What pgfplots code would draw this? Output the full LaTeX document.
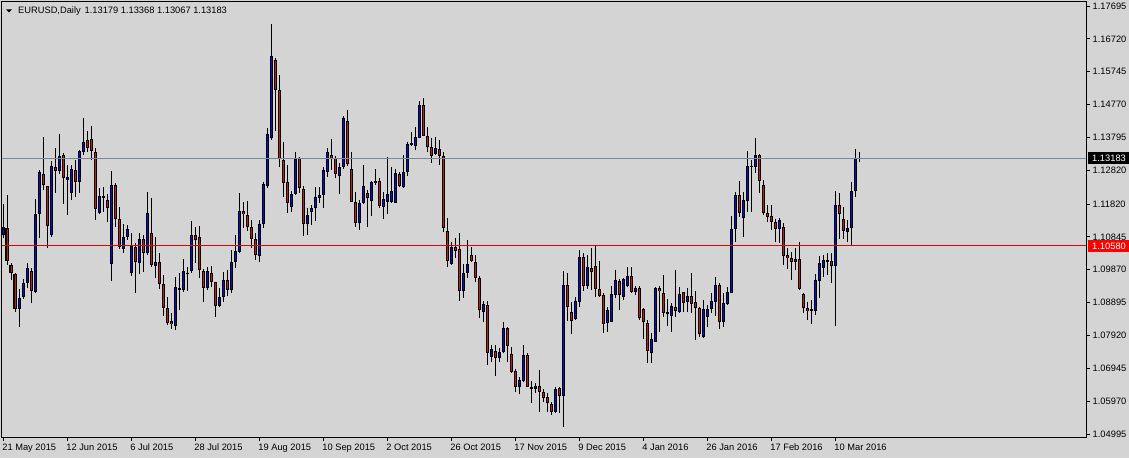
\documentclass[border=0pt]{standalone}
\usepackage{fontspec}
\setmainfont{Liberation Sans}
\usepackage{pgfplots}
\pgfplotsset{compat=1.18}
\usepackage{pgfplotstable}
\definecolor{bg}{RGB}{212,212,212}
\definecolor{bullc}{RGB}{10,10,210}
\definecolor{bearc}{RGB}{210,20,20}
\definecolor{bidline}{RGB}{119,136,153}
\definecolor{hline}{RGB}{230,0,0}
\newcommand{\lbl}{\fontsize{9.3}{10}\selectfont}

% i open high low close  (bullish candles)
\pgfplotstableread{
i o h l c
0 1.10901 1.11820 1.10802 1.11148
4 1.08715 1.09288 1.08181 1.09021
5 1.09051 1.09585 1.08992 1.09466
6 1.09466 1.10060 1.09318 1.09912
8 1.09219 1.11969 1.09170 1.11514
9 1.11514 1.12829 1.10802 1.12770
12 1.10901 1.13096 1.10851 1.12948
14 1.12809 1.13897 1.12710 1.13244
16 1.12532 1.12977 1.11494 1.12612
17 1.12157 1.12977 1.11939 1.12849
19 1.12463 1.13422 1.12137 1.13383
20 1.13373 1.14362 1.13274 1.13650
24 1.11563 1.12285 1.11524 1.12058
25 1.12008 1.12315 1.11593 1.12058
27 1.10030 1.12799 1.09536 1.12374
30 1.10475 1.11227 1.10357 1.10841
31 1.10831 1.11197 1.10752 1.11079
32 1.09783 1.10950 1.09694 1.10574
34 1.10080 1.10970 1.09743 1.10772
36 1.10357 1.12166 1.10307 1.11543
38 1.09991 1.10851 1.09615 1.10099
43 1.08191 1.09664 1.08082 1.09348
44 1.09269 1.09763 1.08675 1.09318
45 1.09259 1.10188 1.09219 1.09832
46 1.09753 1.09961 1.09249 1.09773
47 1.09823 1.11326 1.09763 1.10901
51 1.09318 1.09961 1.09269 1.09823
54 1.08804 1.09318 1.08774 1.09051
55 1.09061 1.09803 1.08913 1.09565
57 1.09269 1.10455 1.09180 1.10099
58 1.10099 1.10901 1.09921 1.10426
59 1.10406 1.12137 1.10357 1.11613
64 1.10277 1.11346 1.10099 1.11217
65 1.11217 1.12483 1.11098 1.12404
66 1.12364 1.14065 1.12305 1.13897
67 1.13769 1.17161 1.13719 1.16212
72 1.11741 1.12216 1.11593 1.12107
73 1.12107 1.13353 1.12087 1.13156
76 1.11217 1.11692 1.10901 1.11494
77 1.11573 1.11791 1.11197 1.11692
78 1.11692 1.12315 1.11326 1.12018
79 1.12008 1.12315 1.11840 1.12087
80 1.12087 1.12928 1.11712 1.12829
81 1.12780 1.13492 1.12612 1.13353
84 1.12661 1.13027 1.12117 1.12908
85 1.12908 1.14441 1.12859 1.14362
89 1.11247 1.11929 1.11049 1.11840
90 1.11840 1.12977 1.11810 1.12345
92 1.11919 1.12503 1.11464 1.12473
93 1.12434 1.12849 1.12384 1.12503
95 1.11741 1.12186 1.11375 1.11959
96 1.11890 1.13205 1.11514 1.12107
97 1.11890 1.12928 1.11840 1.12206
98 1.11860 1.12859 1.11840 1.12730
100 1.12335 1.13274 1.12305 1.12760
101 1.12760 1.13670 1.12661 1.13591
102 1.13591 1.13966 1.13551 1.13640
103 1.13551 1.14115 1.13423 1.13798
104 1.13788 1.14876 1.13769 1.14758
108 1.13294 1.13818 1.13274 1.13472
112 1.10030 1.10702 1.10010 1.10554
115 1.09249 1.10040 1.09021 1.09763
116 1.09763 1.10752 1.09614 1.10030
120 1.08625 1.08952 1.08329 1.08853
122 1.07290 1.07636 1.07142 1.07508
124 1.07241 1.07538 1.07142 1.07419
125 1.07419 1.08329 1.07389 1.08131
129 1.06400 1.06697 1.06173 1.06598
130 1.06568 1.07646 1.06549 1.07340
132 1.06341 1.06568 1.05906 1.06400
133 1.06341 1.06519 1.06202 1.06420
138 1.05639 1.06380 1.05609 1.06331
140 1.06133 1.09842 1.05213 1.09417
143 1.08398 1.09051 1.08378 1.08942
144 1.08922 1.10455 1.08774 1.10238
146 1.09397 1.10307 1.09298 1.09941
151 1.08279 1.08774 1.08032 1.08675
152 1.08329 1.09387 1.08309 1.09150
153 1.09120 1.09862 1.09021 1.09565
155 1.09051 1.09615 1.08972 1.09595
156 1.09397 1.09941 1.09367 1.09684
158 1.09199 1.09387 1.09120 1.09338
162 1.07389 1.07983 1.07112 1.07814
163 1.07735 1.09367 1.07716 1.09318
167 1.08508 1.08893 1.08033 1.08794
169 1.08626 1.09368 1.08577 1.09150
171 1.08913 1.09319 1.08626 1.09091
175 1.07884 1.08972 1.07835 1.08705
176 1.08478 1.08824 1.08181 1.08705
177 1.08695 1.09190 1.08577 1.08943
178 1.08923 1.09665 1.08498 1.09417
180 1.08330 1.09170 1.08181 1.08873
181 1.08854 1.09368 1.08824 1.09200
182 1.09190 1.11465 1.09170 1.11069
183 1.11069 1.12187 1.10703 1.12088
185 1.11415 1.12187 1.10851 1.11939
186 1.11920 1.13393 1.11593 1.12948
187 1.12928 1.13126 1.11593 1.12948
188 1.12928 1.13789 1.12731 1.13275
194 1.11069 1.11396 1.10673 1.11346
202 1.08656 1.08972 1.08250 1.08705
203 1.08656 1.09744 1.08527 1.09566
204 1.09546 1.10278 1.09022 1.10060
205 1.09912 1.10308 1.09665 1.10159
206 1.10110 1.10377 1.09714 1.10159
208 1.09991 1.12206 1.08211 1.11791
211 1.11000 1.11346 1.10703 1.11119
212 1.11099 1.12464 1.10604 1.12216
213 1.12216 1.13453 1.12038 1.13176
214 1.13179 1.13368 1.13067 1.13183
}\bulltab

% bearish candles
\pgfplotstableread{
i o h l c
1 1.11108 1.12087 1.10010 1.10139
2 1.10010 1.10080 1.09565 1.09763
3 1.09743 1.09783 1.08626 1.08695
7 1.09832 1.09912 1.08873 1.09249
10 1.12701 1.13808 1.12236 1.12374
11 1.12344 1.12354 1.10505 1.11177
13 1.12908 1.13492 1.12137 1.12809
15 1.13274 1.13343 1.11820 1.12582
18 1.12819 1.13126 1.12038 1.12483
21 1.13719 1.13986 1.13373 1.13492
22 1.13749 1.14135 1.13126 1.13403
23 1.13353 1.13492 1.11346 1.11682
26 1.11939 1.12117 1.11296 1.11712
28 1.12374 1.12453 1.11148 1.11365
29 1.11375 1.11721 1.10475 1.10545
33 1.10554 1.10653 1.09170 1.10109
35 1.10772 1.10901 1.09813 1.10357
37 1.10950 1.11998 1.09961 1.10001
39 1.10089 1.10357 1.09288 1.09437
40 1.09437 1.09714 1.08497 1.08725
41 1.08725 1.09051 1.08230 1.08299
42 1.08339 1.08596 1.08102 1.08250
48 1.10901 1.11148 1.10060 1.10752
49 1.10851 1.11168 1.09615 1.09862
50 1.09823 1.09882 1.08923 1.09318
52 1.09763 1.09991 1.09368 1.09516
53 1.09496 1.09516 1.08477 1.08804
56 1.09565 1.09862 1.09091 1.09269
60 1.11613 1.11890 1.11098 1.11514
61 1.11494 1.11909 1.11019 1.11128
62 1.11138 1.11346 1.10505 1.10772
63 1.10782 1.10960 1.10159 1.10307
68 1.16093 1.16162 1.13996 1.15193
69 1.15193 1.15648 1.12928 1.13146
70 1.13126 1.13650 1.12038 1.12453
71 1.12483 1.12977 1.11563 1.11860
74 1.13195 1.13225 1.12157 1.12285
75 1.12265 1.12364 1.10881 1.11227
82 1.13274 1.13749 1.12829 1.13175
83 1.13175 1.13254 1.12582 1.12701
86 1.14283 1.14609 1.12958 1.12997
87 1.12849 1.13353 1.11870 1.11890
88 1.11890 1.12167 1.11128 1.11267
91 1.12147 1.12236 1.11148 1.12008
94 1.12503 1.12582 1.11692 1.11771
99 1.12701 1.12780 1.12335 1.12364
105 1.14758 1.14955 1.13838 1.13848
106 1.13838 1.14095 1.13373 1.13502
107 1.13502 1.13769 1.13047 1.13254
109 1.13452 1.13719 1.12977 1.13244
110 1.13244 1.13363 1.10990 1.11108
111 1.11029 1.11395 1.09961 1.10139
113 1.10534 1.10801 1.10208 1.10435
114 1.10485 1.10950 1.08952 1.09239
117 1.10297 1.10554 1.10109 1.10139
118 1.10089 1.10307 1.09516 1.09614
119 1.09614 1.09684 1.08428 1.08675
121 1.08813 1.08952 1.07043 1.07389
123 1.07468 1.07636 1.06727 1.07241
126 1.08131 1.08180 1.07142 1.07617
127 1.07369 1.07587 1.06796 1.06845
128 1.06865 1.06914 1.06252 1.06400
131 1.07340 1.07389 1.06380 1.06400
134 1.06420 1.06895 1.05658 1.06232
135 1.06252 1.06321 1.05955 1.06074
136 1.06094 1.06202 1.05658 1.05906
137 1.05886 1.05955 1.05560 1.05639
139 1.06351 1.06400 1.05609 1.06133
141 1.09417 1.09763 1.08358 1.08754
142 1.08606 1.08922 1.07953 1.08358
145 1.10238 1.10356 1.09249 1.09397
147 1.09911 1.10524 1.09268 1.09812
148 1.09980 1.10594 1.09051 1.09288
149 1.09298 1.10139 1.09051 1.09100
150 1.09120 1.09169 1.08002 1.08260
154 1.09535 1.09595 1.08675 1.09120
157 1.09684 1.09941 1.09169 1.09199
159 1.09338 1.09387 1.08378 1.08428
160 1.08705 1.08734 1.07805 1.08309
161 1.08279 1.08378 1.07092 1.07468
164 1.09319 1.09388 1.08033 1.09249
165 1.09170 1.09714 1.08478 1.08577
166 1.08597 1.09002 1.08211 1.08577
168 1.08755 1.09862 1.08478 1.08656
170 1.09200 1.09220 1.08626 1.08893
172 1.09091 1.09764 1.08577 1.08854
173 1.08903 1.09249 1.07786 1.08725
174 1.08725 1.08775 1.07884 1.07954
179 1.09417 1.09487 1.08102 1.08310
184 1.12088 1.12503 1.11445 1.11564
189 1.13275 1.13295 1.12137 1.12513
190 1.12384 1.12533 1.11494 1.11544
191 1.11544 1.11791 1.11277 1.11445
192 1.11465 1.11791 1.11049 1.11277
193 1.11277 1.11366 1.10703 1.11069
195 1.11128 1.11247 1.10011 1.10288
196 1.10308 1.10505 1.09892 1.10209
197 1.10209 1.10406 1.09566 1.10110
198 1.10189 1.10505 1.09862 1.10110
199 1.10179 1.10693 1.09269 1.09289
200 1.09150 1.09170 1.08597 1.08725
201 1.08725 1.08923 1.08379 1.08656
207 1.10139 1.10357 1.09467 1.09991
209 1.11791 1.12137 1.10782 1.11514
210 1.11376 1.11742 1.10782 1.11030
}\beartab

\pgfplotsset{
  vbar/.style 2 args={draw=none, mark=none, forget plot,
    error bars/.cd, y dir=both, y explicit, error mark=none,
    error bar style={draw=#1, line width=#2, solid}},
}

\begin{document}
\begin{tikzpicture}[x=1pt,y=1pt]
\fill[bg] (0,0) rectangle (1129,458);
\begin{axis}[
  at={(2pt,21pt)}, anchor=south west,
  width=1084pt, height=435pt, scale only axis,
  xmin=-0.3, xmax=270.7, ymin=1.04907, ymax=1.17814,
  axis background/.style={fill=bg},
  axis line style={black, line width=1pt},
  tick align=outside, major tick length=4pt,
  tick style={black, line width=1pt},
  xtick pos=bottom, ytick pos=right,
  xtick={0,16,32,48,64,80,96,112,128,144,160,176,192,208},
  xticklabels={21 May 2015,12 Jun 2015,6 Jul 2015,28 Jul 2015,19 Aug 2015,10 Sep 2015,2 Oct 2015,26 Oct 2015,17 Nov 2015,9 Dec 2015,4 Jan 2016,26 Jan 2016,17 Feb 2016,10 Mar 2016},
  ytick={1.04995,1.05970,1.06945,1.07920,1.08895,1.09870,1.10845,1.11820,1.12820,1.13795,1.14770,1.15745,1.16720,1.17695},
  yticklabels={1.04995,1.05970,1.06945,1.07920,1.08895,1.09870,1.10845,1.11820,1.12820,1.13795,1.14770,1.15745,1.16720,1.17695},
  tick label style={font=\lbl, black},
  xticklabel style={anchor=north west, inner sep=0pt, yshift=-3pt, xshift=-1pt},
  yticklabel style={anchor=west, inner sep=0pt, xshift=2.5pt},
  minor tick num=0,
]
% wicks
\addplot[vbar={black}{1pt}] table[x=i, y expr={(\thisrow{h}+\thisrow{l})/2}, y error expr={(\thisrow{h}-\thisrow{l})/2}] {\bulltab};
\addplot[vbar={black}{1pt}] table[x=i, y expr={(\thisrow{h}+\thisrow{l})/2}, y error expr={(\thisrow{h}-\thisrow{l})/2}] {\beartab};
% body outlines
\addplot[vbar={black}{3.4pt}] table[x=i, y expr={(\thisrow{o}+\thisrow{c})/2}, y error expr={max(abs(\thisrow{c}-\thisrow{o})/2,0.00016)}] {\bulltab};
\addplot[vbar={black}{3.4pt}] table[x=i, y expr={(\thisrow{o}+\thisrow{c})/2}, y error expr={max(abs(\thisrow{c}-\thisrow{o})/2,0.00016)}] {\beartab};
% body fills
\addplot[vbar={bullc}{1.1pt}] table[x=i, y expr={(\thisrow{o}+\thisrow{c})/2}, y error expr={max(abs(\thisrow{c}-\thisrow{o})/2-0.0003,0)}] {\bulltab};
\addplot[vbar={bearc}{1.1pt}] table[x=i, y expr={(\thisrow{o}+\thisrow{c})/2}, y error expr={max(abs(\thisrow{c}-\thisrow{o})/2-0.0003,0)}] {\beartab};
% horizontal lines
\addplot[bidline, line width=1pt, forget plot] coordinates {(-0.3,1.13183) (270.7,1.13183)};
\addplot[hline, line width=1pt, forget plot] coordinates {(-0.3,1.10580) (270.7,1.10580)};
\coordinate (bid) at (axis cs:270.7,1.13183);
\coordinate (hl) at (axis cs:270.7,1.10580);
\end{axis}
\node[anchor=west, fill=black, text=white, inner xsep=4pt, inner ysep=0pt, minimum height=12pt, font=\lbl] at ([xshift=2pt]bid) {1.13183};
\node[anchor=west, fill=red, text=white, inner xsep=4pt, inner ysep=0pt, minimum height=12pt, font=\lbl] at ([xshift=2pt]hl) {1.10580};
% title
\fill[black] (6,448.5) -- (12,448.5) -- (9,445.5) -- cycle;
\node[anchor=base west, inner sep=0pt, font=\lbl] at (18,444) {EURUSD,Daily\hspace{4pt}1.13179 1.13368 1.13067 1.13183};
\pgfresetboundingbox
\useasboundingbox (0,0) rectangle (1129,458);
\end{tikzpicture}
\end{document}
